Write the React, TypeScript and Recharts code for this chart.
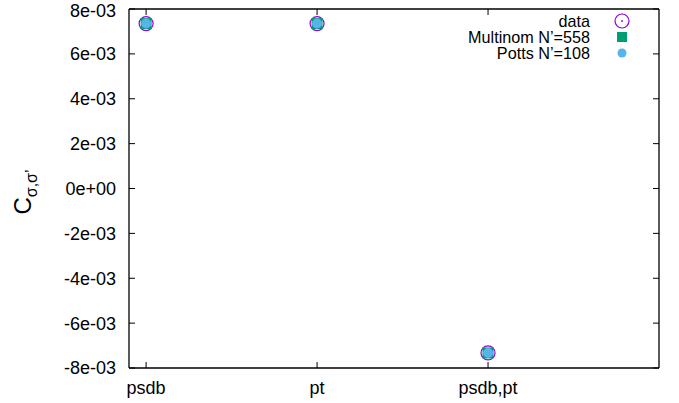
import React from 'react';
import { ComposedChart, Scatter, XAxis, YAxis, Legend } from 'recharts';

const categories = ['psdb', 'pt', 'psdb,pt'];
const categoryIndex = [0, 1, 2];
const dataValues = [0.00735, 0.00735, -0.00733];
const multinomValues = [0.00735, 0.00735, -0.00733];
const pottsValues = [0.00735, 0.00735, -0.00733];
const yTicks = [-0.008, -0.006, -0.004, -0.002, 0, 0.002, 0.004, 0.006, 0.008];
const seriesNames = ['data', 'Multinom N\u2019=558', 'Potts N\u2019=108'];
const xDomain: [number, number] = [-0.1, 3];
const yDomain: [number, number] = [-0.008, 0.008];

const PURPLE = '#9400d3';
const GREEN = '#009e73';
const BLUE = '#56b4e9';
const FONT = '"Liberation Sans", Arial, Helvetica, sans-serif';

const rows = categoryIndex.map((x, i) => ({
  x,
  data: dataValues[i],
  multinom: multinomValues[i],
  potts: pottsValues[i],
}));

const fmtY = (v: number) => {
  const s = Math.abs(v) < 1e-12 ? '0e+0' : v.toExponential(0);
  return s.replace(/e([+-])(\d)$/, (_m, sg, d) => 'e' + sg + '0' + d);
};
const fmtX = (v: number) => categories[Math.round(v)] ?? '';

const DataShape = (p: any) => (
  <circle cx={p.cx} cy={p.cy} r={7} fill="none" stroke={PURPLE} strokeWidth={1.2} />
);
const SquareShape = (p: any) => (
  <rect x={p.cx - 5.5} y={p.cy - 5.5} width={11} height={11} fill={GREEN} />
);
const DotShape = (p: any) => <circle cx={p.cx} cy={p.cy} r={5} fill={BLUE} />;

const EmptyTick = () => <g />;

const LegendContent = () => {
  const ys = [21, 37, 53];
  return (
    <svg width={679} height={70} style={{ display: 'block' }}>
      {seriesNames.map((n, i) => (
        <text
          key={n}
          x={590}
          y={ys[i]}
          dy="0.35em"
          textAnchor="end"
          fontFamily={FONT}
          fontSize={16.2}
          fill="#000"
        >
          {n}
        </text>
      ))}
      <circle cx={622} cy={ys[0]} r={7} fill="none" stroke={PURPLE} strokeWidth={1.2} />
      <circle cx={622} cy={ys[0]} r={0.9} fill={PURPLE} />
      <rect x={617} y={ys[1] - 5} width={10} height={10} fill={GREEN} />
      <circle cx={622} cy={ys[2]} r={4.5} fill={BLUE} />
    </svg>
  );
};

const YLabel = () => (
  <text
    transform="rotate(-90, 31, 192)"
    x={31}
    y={192}
    textAnchor="middle"
    fontFamily={FONT}
    fill="#000"
  >
    <tspan fontSize={24}>C</tspan>
    <tspan fontSize={16} dy={6}>{'\u03c3,\u03c3\u2019'}</tspan>
  </text>
);

export default function App() {
  return (
    <div style={{ position: 'absolute', left: 0, top: 0, background: '#fff' }}>
      <ComposedChart
        width={679}
        height={403}
        data={rows}
        margin={{ top: 0, right: 0, bottom: 0, left: 0 }}
        style={{ fontFamily: FONT }}
      >
        <XAxis
          dataKey="x"
          type="number"
          domain={xDomain}
          allowDataOverflow
          ticks={categoryIndex}
          tickFormatter={fmtX}
          height={35}
          tickSize={-6}
          tickMargin={19}
          stroke="#000"
          tick={{ fill: '#000', fontSize: 18 }}
          axisLine={{ stroke: '#000', strokeWidth: 1.3 }}
          tickLine={{ stroke: '#000' }}
        />
        <XAxis
          xAxisId="top"
          orientation="top"
          dataKey="x"
          type="number"
          domain={xDomain}
          allowDataOverflow
          ticks={categoryIndex}
          height={9}
          tickSize={-6}
          tick={EmptyTick}
          axisLine={{ stroke: '#000', strokeWidth: 1.3 }}
          tickLine={{ stroke: '#000' }}
        />
        <YAxis
          type="number"
          domain={yDomain}
          allowDataOverflow
          ticks={yTicks}
          tickFormatter={fmtY}
          width={129}
          tickSize={-6}
          tickMargin={19}
          tick={{ fill: '#000', fontSize: 18 }}
          axisLine={{ stroke: '#000', strokeWidth: 1.3 }}
          tickLine={{ stroke: '#000' }}
          label={{ content: () => <YLabel /> }}
        />
        <YAxis
          yAxisId="right"
          orientation="right"
          type="number"
          domain={yDomain}
          allowDataOverflow
          ticks={yTicks}
          width={20}
          tickSize={-6}
          tick={EmptyTick}
          axisLine={{ stroke: '#000', strokeWidth: 1.3 }}
          tickLine={{ stroke: '#000' }}
        />
        <Legend
          layout="vertical"
          align="center"
          verticalAlign="middle"
          wrapperStyle={{ position: 'absolute', left: 0, top: 0, width: 679, height: 70 }}
          content={LegendContent}
        />
        <Scatter name={seriesNames[0]} dataKey="data" shape={DataShape} isAnimationActive={false} />
        <Scatter name={seriesNames[1]} dataKey="multinom" shape={SquareShape} isAnimationActive={false} />
        <Scatter name={seriesNames[2]} dataKey="potts" shape={DotShape} isAnimationActive={false} />
      </ComposedChart>
    </div>
  );
}
